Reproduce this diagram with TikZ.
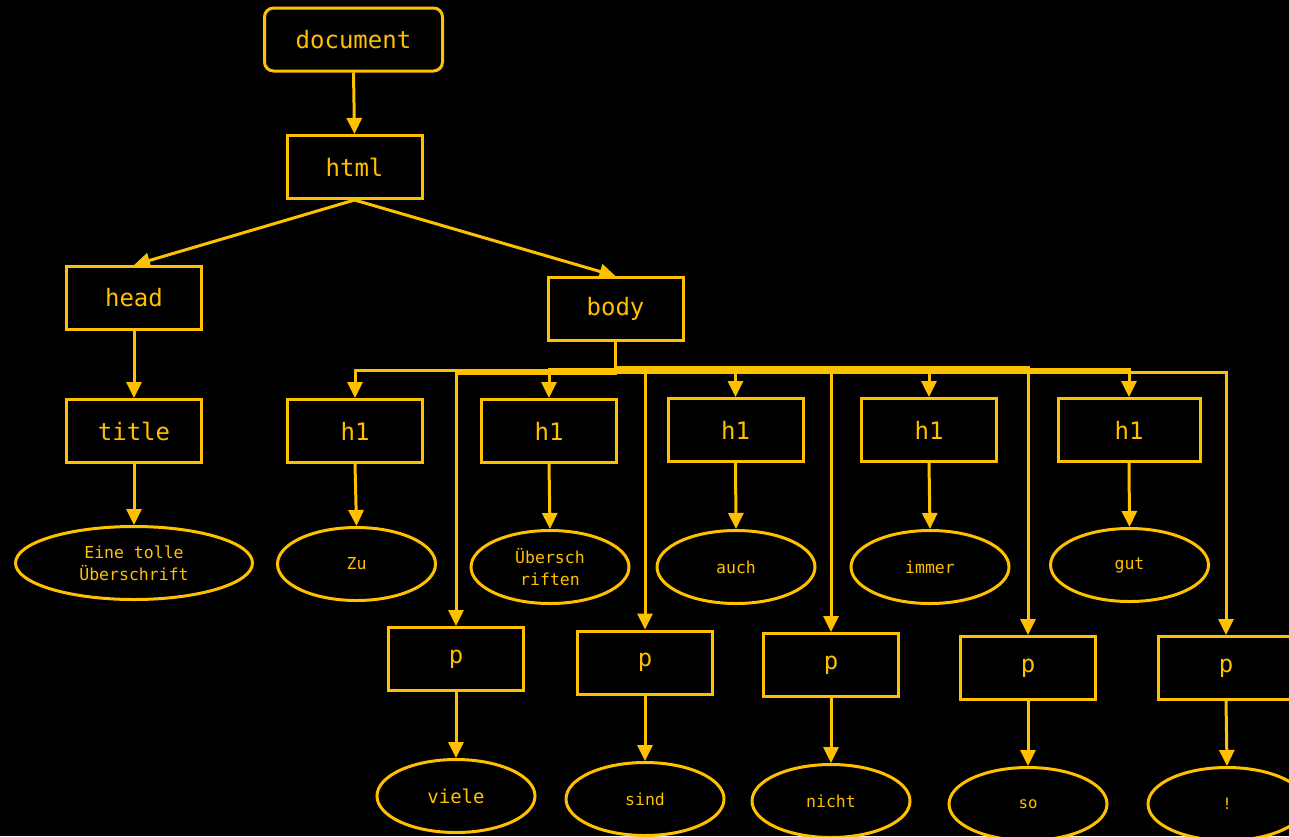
\documentclass[tikz,border=0pt]{standalone}
\usepackage{fontspec}
\setmonofont{DejaVu Sans Mono}
\usetikzlibrary{arrows.meta,shapes.geometric}
\definecolor{gold}{RGB}{255,192,0}
\tikzset{
  box/.style={draw=gold,line width=3pt,fill=black,text=gold,inner sep=0pt,
    minimum width=135pt,minimum height=63pt,font=\ttfamily\fontsize{24}{28}\selectfont},
  rbox/.style={box,rounded corners=9pt,minimum width=178pt},
  leaf/.style={ellipse,draw=gold,line width=3pt,fill=black,text=gold,inner sep=0pt,
    minimum width=158pt,minimum height=73pt,align=center,
    font=\ttfamily\fontsize{16.5}{22}\selectfont},
  edge/.style={draw=gold,line width=3pt,-{Triangle[length=16pt,width=15pt]}},
}
\begin{document}
\begin{tikzpicture}[x=1pt,y=-1pt]
\fill[black] (0,0) rectangle (1289,836);
\useasboundingbox (0,0) rectangle (1289,836);
% nodes
\node[rbox] (doc) at (353.5,39.5) {document};
\node[box] (html) at (354.5,167) {html};
\node[box] (head) at (134,298) {head};
\node[box] (body) at (615.5,309) {body};
\node[box] (title) at (134,431) {title};
\node[leaf,minimum width=237pt] (t1) at (134,563) {Eine tolle\\Überschrift};
\node[box] (h1a) at (355,431) {h1};
\node[box] (h1b) at (549,431) {h1};
\node[box] (h1c) at (735.5,430) {h1};
\node[box] (h1d) at (929,430) {h1};
\node[box,minimum width=142pt] (h1e) at (1129,430) {h1};
\node[leaf] (la) at (356.5,564) {Zu};
\node[leaf] (lb) at (550,567) {Übersch\\riften};
\node[leaf] (lc) at (736,567) {auch};
\node[leaf] (ld) at (930,567) {immer};
\node[leaf] (le) at (1129.5,565) {gut};
\node[box] (pa) at (456,659) {p};
\node[box] (pb) at (645,662.5) {p};
\node[box] (pc) at (831,665) {p};
\node[box] (pd) at (1028,668) {p};
\node[box] (pe) at (1226,668) {p};
\node[leaf,font=\ttfamily\fontsize{19}{22}\selectfont] (qa) at (456,796) {viele};
\node[leaf] (qb) at (645,799) {sind};
\node[leaf] (qc) at (831,801) {nicht};
\node[leaf,font=\ttfamily\fontsize{15.7}{22}\selectfont] (qd) at (1028,804) {so};
\node[leaf,font=\ttfamily\fontsize{15.7}{22}\selectfont] (qe) at (1227,804) {!};
% edges
\draw[edge] (doc.south) -- (html.north);
\draw[edge] (html.south) -- (head.north);
\draw[edge] (html.south) -- (body.north);
\draw[edge] (head.south) -- (title.north);
\draw[edge] (title.south) -- (t1.north);
\foreach \a/\b in {h1a/la,h1b/lb,h1c/lc,h1d/ld,h1e/le,pa/qa,pb/qb,pc/qc,pd/qd,pe/qe}
  \draw[edge] (\a.south) -- (\b.north);
\foreach \t/\lv in {h1a/370,pa/373,h1b/369,pb/367,h1c/368,pc/370,h1d/369,pd/367,h1e/369,pe/372}
  \draw[edge] (body.south) -- (body.south |- 0,\lv) -- (\t.north |- 0,\lv) -- (\t.north);
\end{tikzpicture}
\end{document}
